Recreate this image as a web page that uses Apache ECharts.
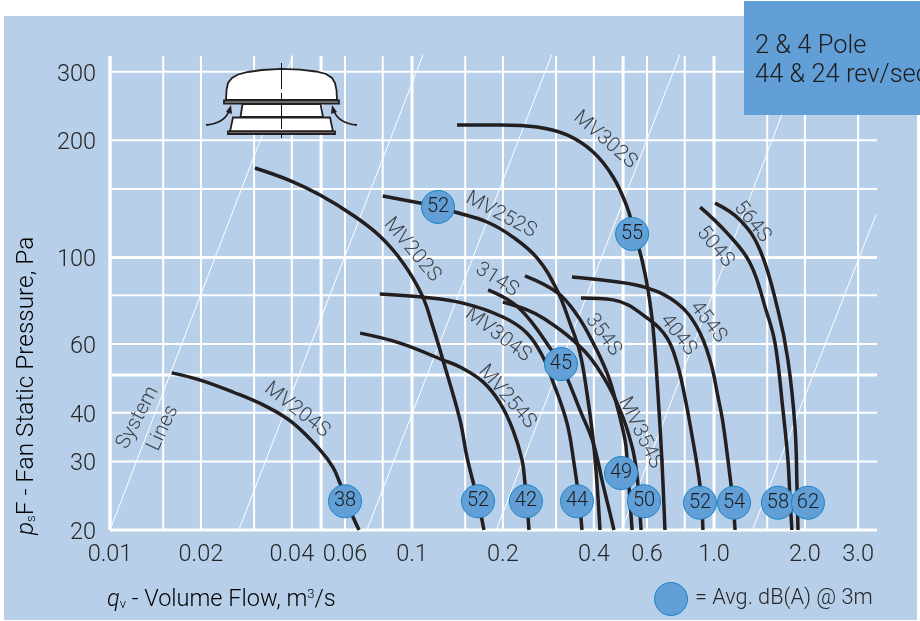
<!DOCTYPE html>
<html><head><meta charset="utf-8">
<style>html,body{margin:0;padding:0;background:#fff}#c{width:920px;height:621px}</style>
<script src="https://cdn.jsdelivr.net/npm/echarts@6/dist/echarts.min.js"></script>
</head><body><div id="c"></div>
<script>
const xTickValues=[0.01,0.02,0.04,0.06,0.1,0.2,0.4,0.6,1,2,3];
const xTickLabels=['0.01','0.02','0.04','0.06','0.1','0.2','0.4','0.6','1.0','2.0','3.0'];
const yTickValues=[20,30,40,60,100,200,300];
const xGridThin=[0.015,0.02,0.03,0.04,0.06,0.08,0.15,0.2,0.3,0.4,0.6,0.8,1.5,2,3];
const xGridThick=[0.05,0.1,0.5,1];
const yGridThin=[30,40,60,80,150,200,300];
const yGridThick=[20,50,100];
const systemLine1=[[0.01,20],[0.0404,331]];
const systemLine2=[[0.0267,20],[0.1087,331]];
const systemLine3=[[0.0709,20],[0.29,331]];
const systemLine4=[[0.19,20],[0.77,331]];
const systemLine5=[[0.4946,20],[2.0,331]];
const systemLine6=[[1.34,20],[3.44,129]];
const mv204s=[[0.016,50.6],[0.0199,48.5],[0.0255,45.2],[0.0331,41.4],[0.0404,37.6],[0.0496,32.1],[0.0547,29],[0.0577,26.4],[0.0638,21.6],[0.0668,20]];
const mv202s=[[0.0302,169.8],[0.04,157],[0.0496,144.8],[0.0623,130],[0.0782,113.6],[0.0934,96.9],[0.108,80],[0.1174,66.3],[0.1266,54.6],[0.1442,38.3],[0.152,30.8],[0.1654,23.7],[0.1731,20]];
const mv254s=[[0.0673,64],[0.0913,60.35],[0.1266,54.6],[0.1442,52.4],[0.1718,48],[0.1956,42.4],[0.216,36.1],[0.2314,30.25],[0.2366,26.4],[0.2404,23.2],[0.244,20]];
const mv252s=[[0.08,143.9],[0.1063,138],[0.1219,134.9],[0.1388,130.9],[0.1772,123.4],[0.216,112.9],[0.2594,99.8],[0.302,82.6],[0.3336,67.9],[0.36,56.9],[0.3796,44.9],[0.3945,36.1],[0.4067,28.5],[0.4192,20]];
const mv304s=[[0.0782,80.7],[0.108,79.2],[0.1475,76.4],[0.2,70.4],[0.2404,64],[0.2714,55.6],[0.293,48],[0.326,37.6],[0.3438,29.7],[0.3574,23.9],[0.3655,20]];
const s314=[[0.1786,82.6],[0.216,76.4],[0.2459,69.1],[0.2864,58.6],[0.3113,53],[0.3285,48.5],[0.36,40.6],[0.398,33.5],[0.4292,26.1],[0.4524,22.1],[0.4664,20]];
const mv354s=[[0.2,76.9],[0.2404,73.4],[0.2714,70],[0.3411,61.4],[0.41,52.4],[0.4886,40.6],[0.5356,32.7],[0.5556,27.7],[0.5645,23.9],[0.5735,20]];
const s354=[[0.2366,89.8],[0.3044,81.1],[0.3519,71.2],[0.3982,60.35],[0.4424,50.6],[0.47,43.6],[0.5076,34],[0.5155,30.25],[0.5275,23.5],[0.5356,20]];
const mv302s=[[0.1409,219],[0.1956,219],[0.2594,216.4],[0.326,206.4],[0.398,186.6],[0.4633,161],[0.5155,134.8],[0.5395,119.1],[0.5775,98.6],[0.6046,82.6],[0.628,66.3],[0.652,44.9],[0.6728,29.7],[0.688,20]];
const s454=[[0.3387,89.2],[0.4524,87.1],[0.6,83.6],[0.7546,76.4],[0.8783,66.3],[0.97,54.6],[1.031,43.9],[1.071,37.6],[1.13,27.4],[1.156,23.5],[1.174,20]];
const s404=[[0.3628,78.8],[0.4633,77.9],[0.6138,69.1],[0.699,62.2],[0.7546,53.6],[0.796,44.9],[0.8358,36.8],[0.9,25.8],[0.919,20]];
const s504=[[0.9,134.8],[1.104,115.7],[1.316,96.9],[1.486,73.4],[1.592,60.35],[1.692,40.6],[1.757,30.25],[1.784,24.3],[1.811,20]];
const s564=[[1.008,138],[1.219,124.9],[1.42,104.6],[1.628,73.4],[1.757,54.6],[1.854,36.8],[1.883,25.8],[1.897,20]];
const noisePoints=[[0.06,23.7],[0.1654,23.7],[0.2384,23.7],[0.3519,23.7],[0.5865,23.7],[0.8986,23.5],[1.165,23.5],[1.628,23.5],[2.047,23.5],[0.4924,28],[0.3113,53.3],[0.5356,115],[0.1219,134.9]];
const noiseValues=[38,52,42,44,50,52,54,58,62,49,45,55,52];
const curveNames=['MV204S','MV254S','MV202S','MV252S','MV302S','314S','MV304S','354S','404S','454S','504S','564S','MV354S','System','Lines'];
const curveNamePoints=[[0.0416,40.6],[0.2064,43.9],[0.1,104.6],[0.197,128.6],[0.4356,200.4],[0.191,87.6],[0.1926,63.3],[0.4292,63.3],[0.76,63.3],[0.955,68.3],[1.008,106.5],[1.336,123.4],[0.569,35.5],[0.01237,38.8],[0.015,36.5]];
const curveNameAngles=[-38,-49,-50,-28,-41,-32,-37,-54,-52,-52,-50,-51,-64,62,65];

const FONT='Roboto', INK='#262626', CURVE='#231f20', BLUE='#629fd6', BLUE_EDGE='#1c84c6';
const YMIN=20, YMAX=333, XMIN=0.01, XMAX=3.465;
const line=(data,w,color,z)=>({type:'line',data,symbol:'none',silent:true,clip:false,z,lineStyle:{width:w,color},animation:false});
const series=[];
xGridThin.forEach(v=>series.push(line([[v,YMIN],[v,329]],2,'#fff',2)));
xGridThick.forEach(v=>series.push(line([[v,YMIN],[v,329]],3,'#fff',2)));
yGridThin.forEach(v=>series.push(line([[XMIN,v],[XMAX,v]],2,'#fff',2)));
yGridThick.forEach(v=>series.push(line([[XMIN,v],[XMAX,v]],3,'#fff',2)));
series.push(line([[XMIN,YMIN],[XMIN,329]],3.5,'#fff',2));
[systemLine1,systemLine2,systemLine3,systemLine4,systemLine5,systemLine6].forEach(d=>series.push(line(d,1,'#fff',3)));
[mv204s,mv202s,mv254s,mv252s,mv304s,s314,mv354s,s354,mv302s,s454,s404,s504,s564].forEach(d=>{
  const s=line(d,3.5,CURVE,4); s.smooth=0.4; series.push(s);
});
series.push({type:'scatter',z:6,silent:true,symbolSize:33,animation:false,
  data:noisePoints.map((p,i)=>({value:p,label:{formatter:String(noiseValues[i])}})),
  itemStyle:{color:BLUE,borderColor:BLUE_EDGE,borderWidth:1,opacity:1},
  label:{show:true,position:'inside',fontFamily:FONT,fontSize:20,fontWeight:300,color:'#1c1c1c'}});
series.push({type:'scatter',z:7,silent:true,symbolSize:0,animation:false,
  data:curveNamePoints.map((p,i)=>({value:p,label:{formatter:curveNames[i],rotate:curveNameAngles[i]}})),
  label:{show:true,position:'inside',align:'center',verticalAlign:'middle',fontFamily:FONT,fontSize:20.5,fontWeight:300,color:'#1a1a1a'}});

const Z=50, stroke={stroke:CURVE,lineWidth:1.8};
const icon=[
 {type:'polygon',z:Z,shape:{points:[[226,100],[226.5,90],[228,83],[232,78],[238,74.5],[248,72],[262,70],[281,68.8],[300,69.6],[316,71.5],[326,74],[332,78],[335,83],[336.5,90],[337,100]]},style:{fill:'#fff',...stroke}},
 {type:'rect',z:Z,shape:{x:224,y:100.5,width:115,height:3},style:{fill:'#b8b8b8',...stroke}},
 {type:'polygon',z:Z,shape:{points:[[242.5,104],[320.5,104],[323,117],[240.5,117]]},style:{fill:'#fff',...stroke}},
 {type:'polygon',z:Z,shape:{points:[[233,117.5],[330,117.5],[333,131.5],[230,131.5]]},style:{fill:'#fff',...stroke}},
 {type:'rect',z:Z,shape:{x:228,y:131.5,width:107,height:2.5},style:{fill:'#b8b8b8',...stroke}},
 {type:'line',z:Z+1,shape:{x1:281.5,y1:63,x2:281.5,y2:138},style:{stroke:'#111',lineWidth:1,lineDash:[26,4,6,4]}},
 {type:'bezierCurve',z:Z,shape:{x1:206,y1:125,cpx1:218,cpy1:124,cpx2:226,cpy2:119,x2:229,y2:111},style:{fill:'none',stroke:CURVE,lineWidth:1.8}},
 {type:'polygon',z:Z,shape:{points:[[231,105],[232,114],[226,112]]},style:{fill:CURVE}},
 {type:'bezierCurve',z:Z,shape:{x1:357,y1:125,cpx1:345,cpy1:124,cpx2:337,cpy2:119,x2:334,y2:111},style:{fill:'none',stroke:CURVE,lineWidth:1.8}},
 {type:'polygon',z:Z,shape:{points:[[332,105],[331,114],[337,112]]},style:{fill:CURVE}}
];
const richTitle=size=>({i:{fontFamily:FONT,fontStyle:'italic',fontWeight:300,fontSize:size,color:INK},
  t:{fontFamily:FONT,fontWeight:300,fontSize:size,color:INK},
  s:{fontFamily:FONT,fontWeight:300,fontSize:13,color:INK,padding:[10,0,0,0]},
  u:{fontFamily:FONT,fontWeight:300,fontSize:13,color:INK,padding:[0,0,10,0]}});
const graphic=[
 {type:'rect',z:-10,silent:true,shape:{x:4,y:16,width:913,height:604},style:{fill:'#b8cfe9'}},
 {type:'rect',z:Z,silent:true,shape:{x:744,y:1,width:176,height:114},style:{fill:BLUE}},
 {type:'text',z:Z+1,x:755,y:46.5,style:{text:'2 & 4 Pole',font:'300 25.5px Roboto',fill:'#1c1c1c',verticalAlign:'middle'}},
 {type:'text',z:Z+1,x:755,y:75.5,style:{text:'44 & 24 rev/sec',font:'300 25.5px Roboto',fill:'#1c1c1c',verticalAlign:'middle'}},
 {type:'circle',z:Z,shape:{cx:671,cy:599,r:16.5},style:{fill:BLUE,stroke:BLUE_EDGE,lineWidth:1}},
 {type:'text',z:Z,x:695,y:598.5,style:{text:'= Avg. dB(A) @ 3m',font:'300 21.7px Roboto',fill:INK,verticalAlign:'middle'}},
 {type:'text',z:Z,x:107,y:600,style:{text:'{i|q}{s|v}{t| - Volume Flow, m}{u|3}{t|/s}',rich:richTitle(23.5),verticalAlign:'middle'}},
 {type:'text',z:Z,x:27,y:535,rotation:Math.PI/2,style:{text:'{i|p}{s|s}{t|F - Fan Static Pressure, Pa}',rich:richTitle(24.4),verticalAlign:'middle'}},
 ...icon
];
const chart=echarts.init(document.getElementById('c'),null,{renderer:'canvas'});
chart.setOption({
 animation:false,backgroundColor:'#fff',
 grid:{left:110,right:43,top:54,bottom:91,containLabel:false},
 xAxis:{type:'log',logBase:10,min:XMIN,max:XMAX,axisLine:{show:false},axisTick:{show:false},splitLine:{show:false},minorSplitLine:{show:false},
   axisLabel:{customValues:xTickValues,formatter:v=>{let b=0;xTickValues.forEach((t,i)=>{if(Math.abs(Math.log(t/v))<Math.abs(Math.log(xTickValues[b]/v)))b=i;});return xTickLabels[b];},fontFamily:FONT,fontWeight:300,fontSize:23.5,color:INK,margin:13,hideOverlap:false,showMinLabel:true,showMaxLabel:true}},
 yAxis:{type:'log',logBase:10,min:YMIN,max:YMAX,axisLine:{show:false},axisTick:{show:false},splitLine:{show:false},minorSplitLine:{show:false},
   axisLabel:{customValues:yTickValues,formatter:v=>'{a|'+Math.round(v)+'}',rich:{a:{fontFamily:FONT,fontWeight:300,fontSize:23.5,color:INK,padding:[6,0,0,0]}},margin:14,hideOverlap:false,showMinLabel:true,showMaxLabel:true}},
 graphic,
 series
});
</script></body></html>
